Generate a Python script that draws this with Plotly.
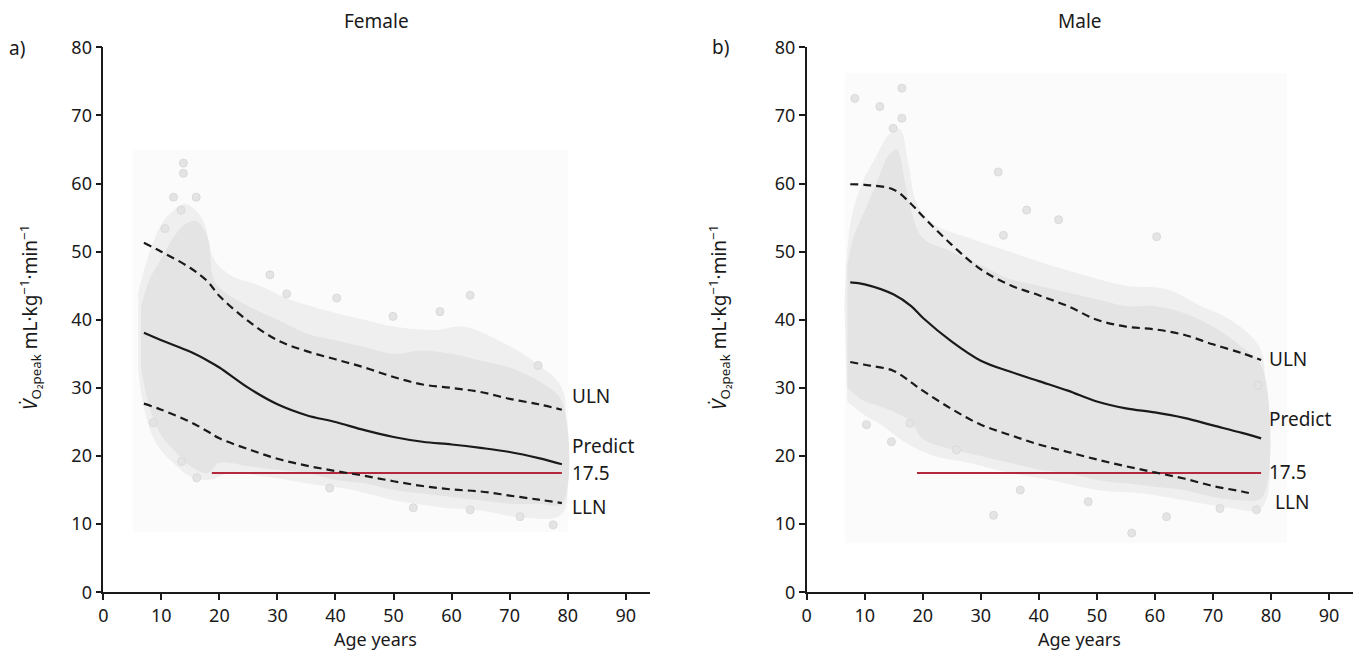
import plotly.graph_objects as go

# ---------------- data ----------------
# Female reference curves (age in years, VO2peak in mL/kg/min)
f_age = [7, 10, 15, 18, 20, 25, 30, 35, 40, 45, 50, 55, 60, 65, 70, 75, 79]
f_predict = [38.1, 37.0, 35.3, 34.0, 33.0, 30.0, 27.6, 26.0, 25.0, 23.8, 22.8, 22.1, 21.7, 21.2, 20.6, 19.7, 18.8]
f_uln = [51.3, 50.0, 47.6, 45.6, 43.5, 39.8, 37.0, 35.4, 34.2, 33.0, 31.6, 30.5, 30.0, 29.4, 28.4, 27.6, 26.8]
f_lln = [27.7, 26.8, 25.0, 23.6, 22.6, 21.0, 19.6, 18.6, 17.8, 17.1, 16.3, 15.6, 15.1, 14.8, 14.2, 13.6, 13.1]

# Male reference curves
m_age = [7.5, 10, 15, 18, 20, 25, 30, 35, 40, 45, 50, 55, 60, 65, 70, 75, 78.3]
m_predict = [45.5, 45.2, 43.7, 42.0, 40.3, 36.8, 34.0, 32.4, 31.0, 29.6, 28.0, 27.0, 26.4, 25.6, 24.5, 23.4, 22.6]
m_uln = [59.9, 59.8, 59.1, 57.0, 55.2, 51.0, 47.4, 45.1, 43.6, 42.0, 40.0, 39.0, 38.6, 37.8, 36.4, 35.1, 34.1]
m_lln_age = [7.5, 10, 15, 18, 20, 25, 30, 35, 40, 45, 50, 55, 60, 65, 70, 75, 77]
m_lln = [33.8, 33.4, 32.5, 30.8, 29.6, 26.9, 24.6, 23.1, 21.7, 20.6, 19.5, 18.5, 17.6, 16.7, 15.6, 14.8, 14.4]

# Cut-off line
cutoff = 17.5
f_cut_age = [18.7, 79.0]
m_cut_age = [19.0, 78.3]

# Outline of the dense observation cloud
f_cloud_x = [6.5, 8, 10, 12, 14, 16, 18, 19, 21, 25, 30, 35, 40, 45, 50, 55, 60, 65, 70, 75, 79,
             79, 75, 70, 65, 60, 55, 50, 45, 40, 35, 30, 25, 20, 18, 15, 12, 10, 8, 6.5]
f_cloud_y = [42, 46, 49, 52, 54, 54.5, 52, 46, 44, 42, 40, 38, 37, 36, 35, 35.5, 35, 34, 33, 31, 28,
             13, 13, 13, 13.5, 14, 14.5, 15, 16, 16.5, 17.5, 18, 18.5, 19, 17.5, 18.5, 21, 23, 27, 33]
m_cloud_x = [7, 8, 10, 12, 14, 15.5, 17, 18, 20, 25, 30, 35, 40, 45, 50, 55, 60, 65, 70, 75, 78.5,
             78.5, 75, 70, 65, 60, 55, 50, 45, 40, 35, 30, 25, 20, 18, 15, 12, 10, 7]
m_cloud_y = [48, 52, 56, 60, 64, 65, 60, 56, 52, 50, 48, 46, 45, 44, 43, 42, 42, 41, 39, 36, 33,
             14, 13.5, 14, 15, 15.5, 16, 16.5, 17.5, 18, 19, 20, 21, 22.5, 25, 26.5, 27.5, 28, 30]

# Outline of the sparser fringe of observations
f_halo_x = [6, 8, 10, 12, 14, 16, 17.5, 19, 22, 27, 32, 40, 45, 50, 57, 62, 68, 74, 79, 79.5,
            79, 72, 65, 58, 50, 43, 35, 28, 22, 18, 15, 12, 9, 7, 6]
f_halo_y = [44, 50, 54, 56, 57, 56, 54, 49, 46.5, 45, 43, 41, 40, 39, 38.5, 39, 37, 34, 30, 22,
            11.5, 11, 12, 12.5, 13.5, 15, 16, 17, 17.5, 16.5, 17, 19, 22, 27, 33]
m_halo_x = [6.5, 7.5, 9.5, 12, 14, 16, 17.5, 19, 22, 28, 35, 42, 48, 55, 62, 68, 73, 78, 79,
            78.5, 72, 65, 58, 50, 42, 35, 28, 22, 17, 13, 10, 7]
m_halo_y = [42, 54, 60, 64, 67, 68, 63, 57, 54, 52, 50, 48, 46.5, 45, 44.5, 42, 40, 36, 30,
            12.5, 12.5, 13.5, 14.5, 15, 16.5, 17.5, 19, 20, 22, 24.5, 26, 28]

# Isolated observations outside the cloud
f_pts_x = [13.8, 13.8, 12.1, 16.0, 13.4, 10.6, 28.7, 63.2, 58.0, 74.9, 49.9, 31.6, 40.2,
           77.5, 53.4, 16.1, 13.5, 8.6, 39.0, 71.8, 63.2]
f_pts_y = [63.0, 61.5, 58.0, 58.0, 56.1, 53.4, 46.6, 43.6, 41.2, 33.3, 40.5, 43.8, 43.2,
           9.9, 12.4, 16.8, 19.2, 24.9, 15.3, 11.1, 12.1]
m_pts_x = [16.4, 8.3, 12.6, 16.4, 14.9, 33.0, 37.9, 43.4, 60.3, 33.9, 56.0, 32.2, 10.3,
           14.6, 36.8, 77.8, 77.5, 71.2, 48.5, 62.0, 17.8, 25.8]
m_pts_y = [74.0, 72.5, 71.3, 69.6, 68.1, 61.7, 56.1, 54.7, 52.2, 52.4, 8.7, 11.3, 24.6,
           22.1, 15.0, 30.4, 12.1, 12.3, 13.3, 11.1, 24.8, 20.9]

x_ticks = [0, 10, 20, 30, 40, 50, 60, 70, 80, 90]
y_ticks = [0, 10, 20, 30, 40, 50, 60, 70, 80]

# ---------------- styling ----------------
FONT = "Noto Sans"
INK = "#1a1a1a"
CLOUD = "#e4e4e4"
HALO = "#efefef"
RED = "#b3283a"

fig = go.Figure()


def add_panel(xref, yref, hx, hy, cx, cy, px, py, age, pred, uln, lln_age, lln, cut_age):
    fig.add_trace(go.Scatter(x=hx, y=hy, fill="toself", fillcolor=HALO, mode="lines",
                             line=dict(width=0, color=HALO, shape="spline"), xaxis=xref, yaxis=yref,
                             hoverinfo="skip", showlegend=False))
    fig.add_trace(go.Scatter(x=cx, y=cy, fill="toself", fillcolor=CLOUD, mode="lines",
                             line=dict(width=0, color=CLOUD, shape="spline"), xaxis=xref, yaxis=yref,
                             hoverinfo="skip", showlegend=False))
    fig.add_trace(go.Scatter(x=px, y=py, mode="markers",
                             marker=dict(size=8, color="#e4e4e4", line=dict(width=1, color="#dadada")),
                             xaxis=xref, yaxis=yref, showlegend=False))
    fig.add_trace(go.Scatter(x=cut_age, y=[cutoff, cutoff], mode="lines",
                             line=dict(color=RED, width=2), xaxis=xref, yaxis=yref, showlegend=False))
    fig.add_trace(go.Scatter(x=age, y=uln, mode="lines",
                             line=dict(color=INK, width=2.2, dash="8px,5px", shape="spline"),
                             xaxis=xref, yaxis=yref, showlegend=False))
    fig.add_trace(go.Scatter(x=lln_age, y=lln, mode="lines",
                             line=dict(color=INK, width=2.2, dash="8px,5px", shape="spline"),
                             xaxis=xref, yaxis=yref, showlegend=False))
    fig.add_trace(go.Scatter(x=age, y=pred, mode="lines", line=dict(color=INK, width=2.2, shape="spline"),
                             xaxis=xref, yaxis=yref, showlegend=False))


add_panel("x", "y", f_halo_x, f_halo_y, f_cloud_x, f_cloud_y, f_pts_x, f_pts_y,
          f_age, f_predict, f_uln, f_age, f_lln, f_cut_age)
add_panel("x2", "y2", m_halo_x, m_halo_y, m_cloud_x, m_cloud_y, m_pts_x, m_pts_y,
          m_age, m_predict, m_uln, m_lln_age, m_lln, m_cut_age)

# faint backdrop behind each cloud
fig.add_shape(type="rect", xref="x", yref="y", x0=5.1, x1=80.1, y0=8.9, y1=64.9,
              fillcolor="#fbfbfb", line=dict(width=0), layer="below")
fig.add_shape(type="rect", xref="x2", yref="y2", x0=6.6, x1=82.7, y0=7.2, y1=76.2,
              fillcolor="#fbfbfb", line=dict(width=0), layer="below")

axis_common = dict(showline=True, linecolor=INK, linewidth=1.5, ticks="outside", ticklen=6,
                   tickwidth=1.5, tickcolor=INK, showgrid=False, zeroline=False, automargin=False,
                   tickfont=dict(family=FONT, size=18, color=INK))

fig.update_layout(
    width=1364, height=653,
    margin=dict(l=0, r=0, t=0, b=0, pad=0, autoexpand=False),
    paper_bgcolor="white", plot_bgcolor="white",
    font=dict(family=FONT, size=18, color=INK),
    xaxis=dict(domain=[103.3 / 1364, 650 / 1364], range=[0, 94.18], tickvals=x_ticks, anchor="y", **axis_common),
    yaxis=dict(domain=[(653 - 592.3) / 653, (653 - 47.3) / 653], range=[0, 80], tickvals=y_ticks, anchor="x", **axis_common),
    xaxis2=dict(domain=[806.7 / 1364, 1353 / 1364], range=[0, 94.13], tickvals=x_ticks, anchor="y2", **axis_common),
    yaxis2=dict(domain=[(653 - 592.3) / 653, (653 - 47.3) / 653], range=[0, 80], tickvals=y_ticks, anchor="x2", **axis_common),
)

ytitle = "<i>V\u0307</i><sub>O\u2082peak</sub> mL\u00b7kg<sup>\u22121</sup>\u00b7min<sup>\u22121</sup>"
ann = []
for xc, ttl, ylx in [(377, "Female", 30), (1080, "Male", 719)]:
    ann.append(dict(text=ttl, x=xc / 1364, y=1 - 21 / 653, xref="paper", yref="paper",
                    showarrow=False, xanchor="center", yanchor="middle", font=dict(size=19)))
    ann.append(dict(text="Age years", x=(xc - 1) / 1364, y=1 - 639 / 653, xref="paper", yref="paper",
                    showarrow=False, xanchor="center", yanchor="middle", font=dict(size=18)))
    ann.append(dict(text=ytitle, x=ylx / 1364, y=1 - 318 / 653, xref="paper", yref="paper",
                    showarrow=False, xanchor="center", yanchor="middle", textangle=-90, font=dict(size=19)))
ann.append(dict(text="a)", x=17 / 1364, y=1 - 48 / 653, xref="paper", yref="paper",
                showarrow=False, xanchor="center", yanchor="middle", font=dict(size=19)))
ann.append(dict(text="b)", x=720 / 1364, y=1 - 47 / 653, xref="paper", yref="paper",
                showarrow=False, xanchor="center", yanchor="middle", font=dict(size=19)))

# curve labels at the right end of each panel
for xr, yr, labs in [
    ("x", "y", [("ULN", 28.8, 80.4), ("Predict", 21.5, 80.4), ("17.5", cutoff, 80.4), ("LLN", 12.5, 80.4)]),
    ("x2", "y2", [("ULN", 34.3, 79.3), ("Predict", 25.4, 79.3), ("17.5", 17.7, 79.3), ("LLN", 13.2, 80.4)]),
]:
    for txt, yv, xv in labs:
        ann.append(dict(text=txt, x=xv, y=yv, xref=xr, yref=yr, showarrow=False,
                        xanchor="left", yanchor="middle", font=dict(size=19)))

fig.update_layout(annotations=ann)

fig.write_html("out.html")
